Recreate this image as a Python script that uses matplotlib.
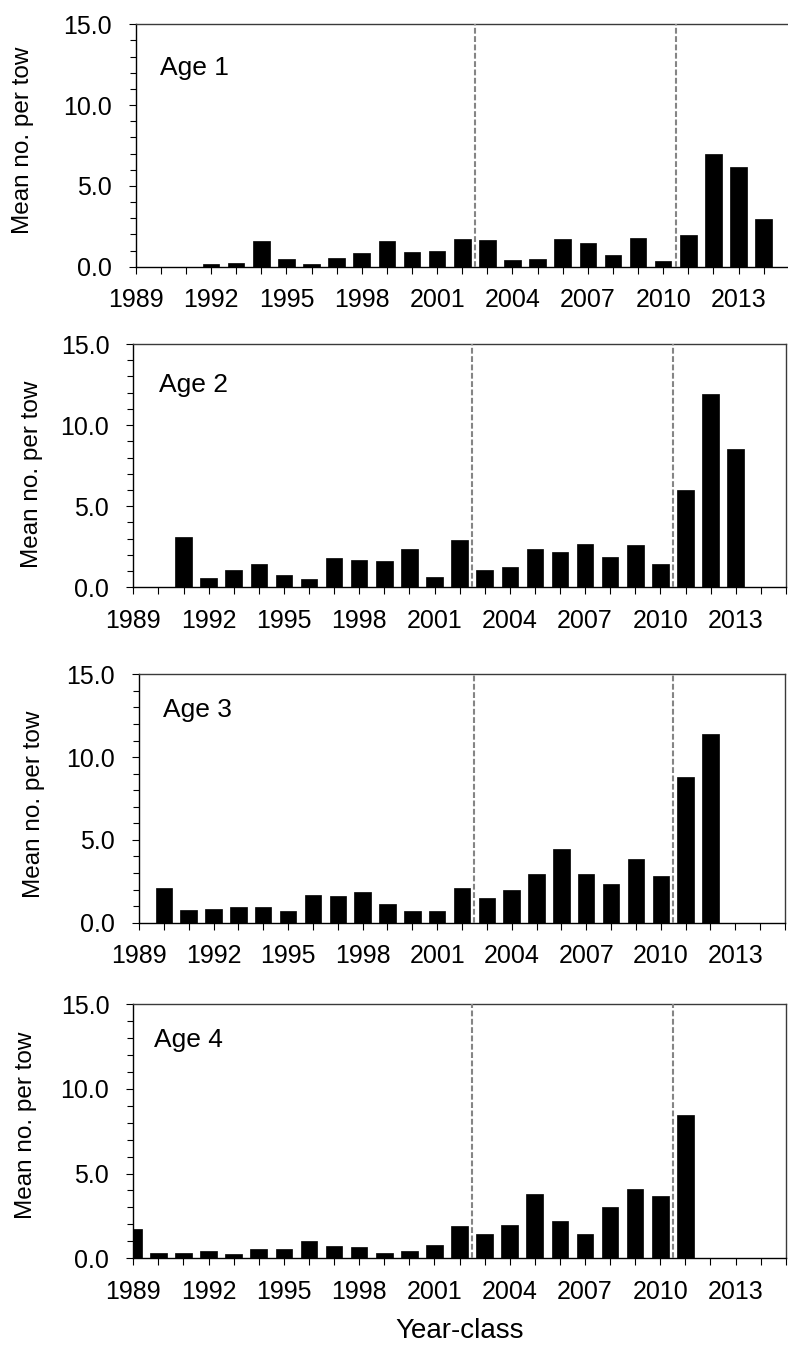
import numpy as np
import matplotlib
matplotlib.use("Agg")
import matplotlib.pyplot as plt
from matplotlib.ticker import MultipleLocator, FixedLocator, FuncFormatter

plt.rcParams['font.family'] = ['Liberation Sans', 'DejaVu Sans']

years = list(range(1989, 2015))
nan = np.nan
age1 = [nan, nan, nan, 0.16, 0.2, 1.59, 0.47, 0.17, 0.56, 0.83, 1.57, 0.89, 0.99, 1.69,
        1.65, 0.41, 0.47, 1.73, 1.46, 0.70, 1.77, 0.35, 1.98, 6.97, 6.19, 2.95]
age2 = [nan, nan, 3.13, 0.56, 1.05, 1.45, 0.76, 0.49, 1.79, 1.68, 1.62, 2.34, 0.62, 2.92,
        1.09, 1.25, 2.34, 2.18, 2.65, 1.87, 2.63, 1.46, 6.02, 11.94, 8.51, nan]
age3 = [nan, 2.10, 0.79, 0.81, 0.92, 0.97, 0.70, 1.65, 1.61, 1.85, 1.15, 0.72, 0.68, 2.09,
        1.51, 1.97, 2.92, 4.45, 2.92, 2.31, 3.84, 2.82, 8.77, 11.42, nan, nan]
age4 = [1.75, 0.34, 0.31, 0.42, 0.28, 0.52, 0.55, 1.02, 0.75, 0.67, 0.29, 0.41, 0.78, 1.92,
        1.41, 1.96, 3.78, 2.20, 1.43, 3.00, 4.06, 3.67, 8.43, nan, nan, nan]
series = [age1, age2, age3, age4]
panel_titles = ["Age 1", "Age 2", "Age 3", "Age 4"]
breaks = [2002.5, 2010.5]
xlabel_years = list(range(1989, 2014, 3))

W, H = 788, 1345
fig = plt.figure(figsize=(W / 100, H / 100), dpi=100)

# pixel boxes: left, right, top, bottom
boxes = [(135.7, 788.8, 24.3, 266.7),
         (133.3, 785.9, 344.0, 587.3),
         (139.0, 785.0, 674.3, 922.7),
         (133.3, 785.7, 1004.0, 1258.3)]
ylab_pos = [(23.3, 140), (31.7, 474), (34.0, 804), (25.7, 1125)]
title_pos = [(160, 75), (159.3, 391.7), (162.7, 716.7), (154.3, 1046.7)]

for i, (vals, box) in enumerate(zip(series, boxes)):
    l, r, t, b = box
    ax = fig.add_axes([l / W, (H - b) / H, (r - l) / W, (b - t) / H])
    xs = [y for y, v in zip(years, vals) if not np.isnan(v)]
    vs = [v for v in vals if not np.isnan(v)]
    ax.bar(xs, vs, width=0.66, color='black', edgecolor='black', linewidth=0.5, zorder=2)
    for bx in breaks:
        ax.axvline(bx, color='#858585', linewidth=1.5, dashes=(2.8, 1.2), zorder=3)
    ax.set_xlim(1989, 2015)
    ax.set_ylim(0, 15)
    ax.yaxis.set_major_locator(MultipleLocator(5))
    ax.yaxis.set_minor_locator(MultipleLocator(1))
    ax.yaxis.set_major_formatter(FuncFormatter(lambda v, p: f"{v:.1f}"))
    ax.xaxis.set_major_locator(FixedLocator(list(range(1989, 2016))))
    ax.xaxis.set_major_formatter(FuncFormatter(
        lambda v, p: str(int(round(v))) if int(round(v)) in xlabel_years else ""))
    ax.tick_params(axis='y', which='major', direction='out', length=5.3, width=0.8,
                   labelsize=18, pad=12)
    ax.tick_params(axis='y', which='minor', direction='out', length=4.1, width=0.8)
    ax.tick_params(axis='x', which='major', direction='out', length=5.0, width=0.8,
                   labelsize=18, pad=10.5)
    for s in ['left', 'bottom']:
        ax.spines[s].set_color('black')
        ax.spines[s].set_linewidth(1.0)
    for s in ['top', 'right']:
        ax.spines[s].set_color('#3a3a3a')
        ax.spines[s].set_linewidth(1.0)
    ax.set_facecolor('white')

    yx, yy = ylab_pos[i]
    fig.text(yx / W, 1 - yy / H, "Mean no. per tow", rotation=90, fontsize=17.5,
             ha='center', va='center')
    tx, ty = title_pos[i]
    fig.text(tx / W, 1 - ty / H, panel_titles[i], fontsize=19, ha='left', va='baseline')

fig.text(460 / W, 1 - 1338.3 / H, "Year-class", fontsize=20, ha='center', va='baseline')

fig.savefig("out.png", dpi=100, facecolor='white')
